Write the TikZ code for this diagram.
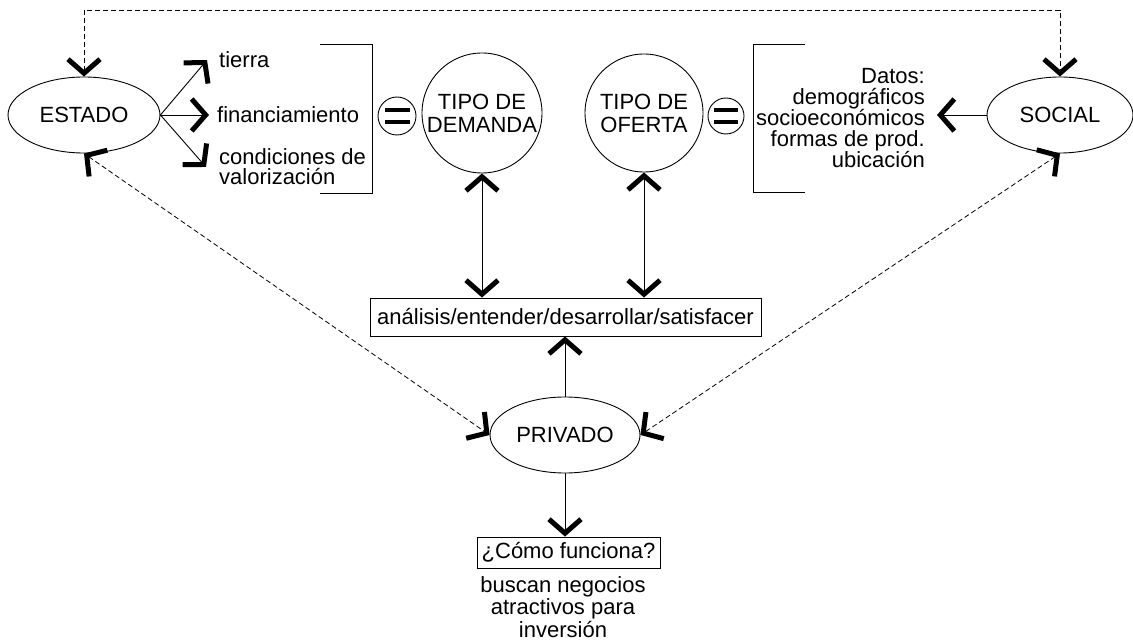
\documentclass[tikz,border=0pt]{standalone}
\usepackage{fontspec}
\setmainfont{Liberation Sans}
\usetikzlibrary{arrows.meta,shapes.geometric}
\begin{document}
\begin{tikzpicture}[x=1pt,y=-1pt,
  >={Straight Barb[length=14pt,width=32pt,line width=5pt]},
  every node/.style={font=\fontsize{22}{21}\selectfont},
  oval/.style={ellipse,draw,line width=0.9pt,inner sep=0pt,minimum height=76pt},
  ring/.style={circle,draw,line width=0.9pt,inner sep=0pt,align=center,
    font=\fontsize{22}{23}\selectfont},
  box/.style={draw,line width=0.9pt,inner sep=0pt},
  conn/.style={line width=0.9pt,->},
  dashconn/.style={line width=0.8pt,dash pattern=on 5pt off 3pt,<->},
  bracket/.style={line width=0.9pt},
  bar/.style={line width=4pt}]
\useasboundingbox[fill=white] (0,0) rectangle (1133,644);

% actors
\node[oval,minimum width=152pt] (estado) at (84,115) {ESTADO};
\node[oval,minimum width=146pt] (social) at (1060,115) {SOCIAL};
\node[oval,minimum width=150pt] (privado) at (565,435) {PRIVADO};

% demand / supply
\node[ring,minimum size=120pt] (demanda) at (482,113) {TIPO DE\\DEMANDA};
\node[ring,minimum size=118pt] (oferta) at (644,113) {TIPO DE\\OFERTA};

% equals signs
\node[ring,minimum size=38pt] (eqL) at (397,116) {};
\node[ring,minimum size=36pt] (eqR) at (726,116) {};
\draw[bar] ([shift={(-12,-6)}]eqL.center) -- ++(25,0);
\draw[bar] ([shift={(-12,6)}]eqL.center) -- ++(25,0);
\draw[bar] ([shift={(-12,-6)}]eqR.center) -- ++(24,0);
\draw[bar] ([shift={(-12,6)}]eqR.center) -- ++(24,0);

% state instruments
\node[anchor=west,inner xsep=12pt,inner ysep=1pt] (tierra) at (207,60) {tierra};
\node[anchor=west,inner xsep=8pt,inner ysep=1pt] (financ) at (209,115) {financiamiento};
\node[anchor=west,inner xsep=13pt,inner ysep=1pt,align=left,
  font=\fontsize{22}{20}\selectfont] (condic) at (206,167) {condiciones de\\valorización};
\draw[bracket] (320,44) -- (372,44) -- (372,193) -- (320,193);

% social data
\node[anchor=east,inner xsep=12pt,inner ysep=1pt,align=right,
  font=\fontsize{22}{20.8}\selectfont] (datos) at (937,118)
  {Datos:\\demográficos\\socioeconómicos\\formas de prod.\\ubicación};
\draw[bracket] (805,44) -- (753,44) -- (753,192) -- (805,192);

% central boxes
\node[box,minimum width=391pt,minimum height=38pt] (analisis) at (565.5,317)
  {análisis/entender/desarrollar/satisfacer};
\node[box,minimum width=183pt,minimum height=31pt] (como) at (568.5,552.5)
  {¿Cómo funciona?};
\node[align=center,font=\fontsize{22}{22.5}\selectfont] (busca) at (563,607)
  {buscan negocios\\atractivos para\\inversión};

% connectors
\draw[conn] (estado.east) -- (tierra.west);
\draw[conn] (estado.east) -- (financ.west);
\draw[conn] (estado.east) -- (condic.west);
\draw[conn] (social.west) -- (social.west -| datos.east);
\draw[conn,<->] (demanda.south) -- (demanda.south |- analisis.north);
\draw[conn,<->] (oferta.south) -- (oferta.south |- analisis.north);
\draw[conn] (privado.north) -- (privado.north |- analisis.south);
\draw[conn] (privado.south) -- (privado.south |- como.north);

\coordinate (top) at (573,10);
\draw[dashconn] (estado.north) |- (top) -| (social.north);
\draw[dashconn] (estado.south) -- (privado.west);
\draw[dashconn] (social.south) -- (privado.east);
\end{tikzpicture}
\end{document}
